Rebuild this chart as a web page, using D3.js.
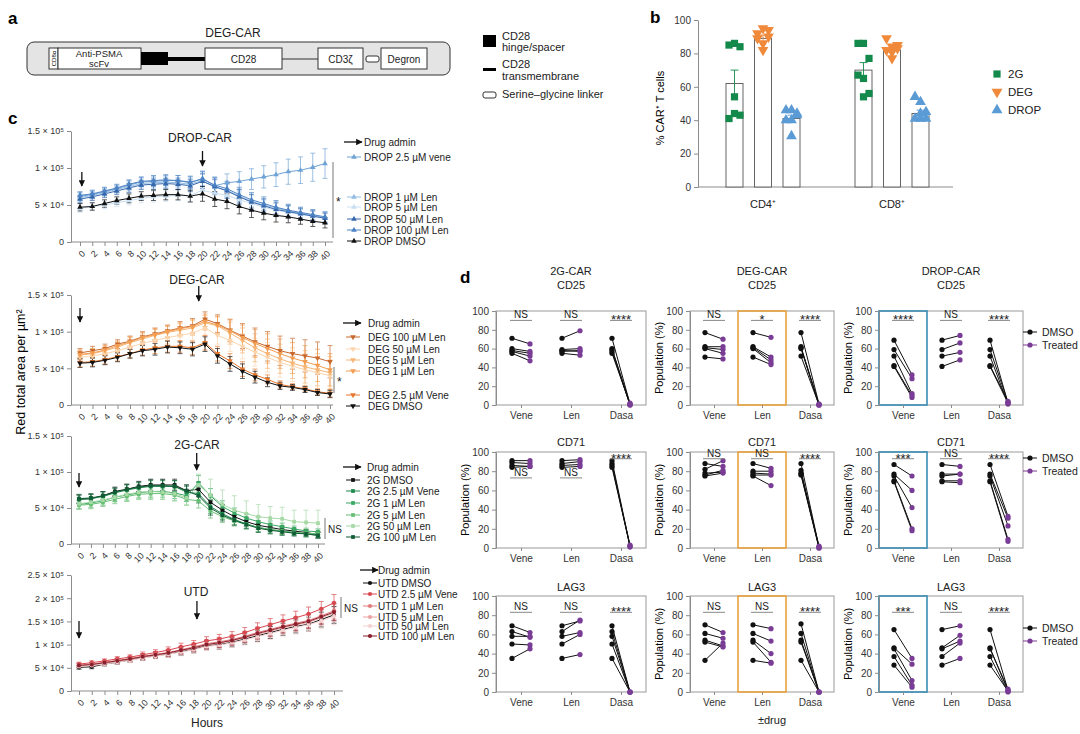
<!DOCTYPE html>
<html lang="en">
<head>
<meta charset="utf-8">
<title>DEG-CAR figure</title>
<script src="https://cdn.jsdelivr.net/npm/d3@7"></script>
<style>
body { margin: 0; background: #fff; }
svg { font-family: "Liberation Sans", Arial, sans-serif; }
.ax { font-family: "Liberation Sans", Arial, sans-serif; }
.ax path, .ax line { stroke: #8c8c8c; }
.ax text { fill: #333; font-size: 9px; }
.axd text { font-size: 10px; }
</style>
</head>
<body>
<svg id="fig" width="1080" height="734"></svg>
<script>
// ---------- panel b data ----------
var bGroups = ["CD4⁺", "CD8⁺"];
var bSeries = ["2G", "DEG", "DROP"];
var bColors = ["#138a4b", "#f0893a", "#5b9bd5"];
var bMeans = [[62, 89, 41], [70, 82, 44]];
var bSem = [[8, 2, 2], [4.5, 1.5, 2]];
var bCD4pts = [[85, 86, 84, 54, 41, 44, 43], [92, 95, 94, 82, 89, 86, 90], [46, 46, 43, 40, 40, 30.5, 44]];
var bCD8pts = [[86, 86, 77, 65, 67, 54, 56], [89, 84, 85, 77, 82, 81, 83], [54, 51, 45, 44, 41, 41, 41]];

// ---------- panel c data (thousands of µm²) ----------
var hours = [0, 2, 4, 6, 8, 10, 12, 14, 16, 18, 20, 22, 24, 26, 28, 30, 32, 34, 36, 38, 40];

var dropVene   = [62, 64, 68, 72, 77, 81, 82, 83, 83, 80, 86, 76, 80, 82, 85, 88, 91, 95, 97, 101, 106];
var drop1Len   = [60, 63, 67, 71, 75, 79, 80, 81, 80, 78, 83, 74, 70, 62, 55, 50, 46, 42, 39, 36, 33];
var drop5Len   = [45, 48, 50, 53, 56, 59, 61, 62, 63, 63, 70, 66, 63, 57, 52, 47, 43, 40, 37, 35, 32];
var drop50Len  = [58, 61, 65, 69, 73, 77, 78, 79, 78, 76, 82, 75, 69, 61, 54, 49, 44, 41, 38, 35, 32];
var drop100Len = [63, 65, 69, 73, 78, 82, 83, 84, 83, 81, 85, 77, 72, 64, 57, 52, 47, 43, 40, 37, 34];
var dropDmso   = [47, 48, 52, 56, 59, 62, 63, 64, 64, 62, 65, 58, 55, 48, 43, 39, 36, 34, 31, 28, 26];
var dropErr     = [5, 5, 5, 5, 6, 6, 7, 7, 7, 8, 10, 10, 10, 10, 10, 9, 9, 8, 7, 7, 7];
var dropVeneErr = [5, 5, 5, 5, 6, 6, 7, 7, 7, 8, 10, 12, 12, 13, 14, 15, 16, 17, 18, 19, 20];

var deg100Len = [71, 74, 77, 83, 87, 93, 97, 101, 105, 108, 117, 111, 102, 94, 86, 80, 74, 70, 67, 64, 59];
var deg50Len  = [65, 67, 70, 74, 79, 84, 88, 92, 95, 98, 105, 95, 88, 80, 72, 65, 58, 53, 48, 44, 40];
var deg5Len   = [68, 70, 74, 79, 85, 90, 95, 99, 102, 105, 112, 108, 98, 88, 78, 70, 63, 57, 52, 48, 44];
var deg1Len   = [69, 71, 75, 81, 86, 92, 96, 100, 104, 107, 114, 109, 101, 92, 84, 77, 70, 64, 59, 54, 48];
var degVene   = [58, 59, 62, 66, 70, 75, 78, 80, 80, 78, 85, 70, 60, 49, 41, 35, 28, 25, 22, 18, 16];
var degDmso   = [57, 58, 61, 65, 70, 74, 76, 79, 78, 76, 83, 67, 56, 46, 38, 31, 26, 24, 21, 17, 15];
var degErr    = [6, 6, 6, 6, 6, 7, 8, 8, 8, 9, 10, 10, 10, 10, 8, 6, 5, 4, 4, 4, 5];
var degLenErr = [6, 6, 6, 6, 7, 7, 8, 8, 9, 10, 10, 12, 15, 17, 19, 20, 20, 21, 22, 22, 22];

var g2Dmso    = [62, 63, 67, 73, 76, 80, 82, 82, 82, 74, 76, 58, 47, 38, 31, 26, 23, 20, 18, 16, 13];
var g2Vene    = [62, 63, 66, 71, 75, 78, 80, 80, 80, 72, 70, 52, 42, 34, 28, 23, 20, 18, 16, 14, 12];
var g2Len1    = [55, 57, 60, 65, 68, 71, 73, 73, 71, 67, 85, 67, 52, 43, 36, 31, 27, 24, 21, 18, 17];
var g2Len5    = [54, 55, 58, 62, 66, 69, 70, 70, 68, 62, 60, 46, 38, 32, 27, 23, 20, 18, 16, 15, 14];
var g2Len50   = [56, 58, 61, 65, 69, 72, 73, 72, 70, 64, 82, 68, 55, 47, 42, 38, 36, 35, 31, 30, 29];
var g2Len100  = [63, 64, 67, 72, 76, 79, 81, 81, 80, 74, 67, 50, 40, 33, 27, 22, 19, 17, 15, 14, 12];
var g2Err     = [6, 6, 6, 6, 7, 7, 8, 8, 8, 8, 10, 10, 8, 7, 6, 6, 5, 5, 4, 4, 4];
var g2LenErr  = [8, 8, 8, 8, 9, 9, 10, 10, 10, 10, 15, 22, 20, 20, 18, 17, 16, 16, 16, 17, 18];

var utdDmso   = [51, 52, 58, 62, 67, 72, 76, 80, 85, 90, 98, 100, 105, 112, 119, 126, 133, 139, 144, 154, 164];
var utdVene   = [58, 61, 65, 69, 73, 78, 83, 88, 95, 101, 108, 112, 118, 126, 135, 143, 151, 158, 166, 177, 190];
var utdLen1   = [56, 58, 62, 66, 70, 75, 79, 83, 89, 95, 102, 106, 111, 118, 126, 133, 140, 146, 152, 162, 173];
var utdLen5   = [54, 56, 60, 64, 68, 73, 77, 81, 87, 92, 99, 103, 108, 115, 122, 129, 136, 142, 148, 158, 168];
var utdLen50  = [53, 55, 58, 62, 66, 71, 75, 79, 84, 89, 96, 99, 104, 110, 117, 124, 131, 137, 143, 151, 161];
var utdLen100 = [55, 57, 61, 65, 69, 74, 78, 82, 88, 93, 100, 104, 109, 116, 124, 131, 138, 144, 150, 160, 170];
var utdErr    = [4, 4, 4, 5, 5, 6, 6, 7, 8, 8, 9, 10, 10, 11, 12, 13, 13, 14, 15, 16, 18];

// ---------- panel d data (Population %) ----------
var drugs = ["Vene", "Len", "Dasa"];
var g2CD25Dmso   = [[71, 60, 58, 57, 55], [71, 59, 58, 57, 55], [71, 60, 59, 57, 55]];
var g2CD25Trt    = [[65, 57, 55, 52, 47], [79, 60, 57, 58, 53], [1, 0, 2, 0, 1]];
var degCD25Dmso  = [[77, 62, 61, 60, 51], [77, 62, 61, 60, 51], [77, 62, 61, 60, 52]];
var degCD25Trt   = [[70, 62, 59, 55, 49], [72, 51, 48, 45, 43], [1, 0, 1, 0, 0]];
var dropCD25Dmso = [[69, 59, 52, 42, 41], [69, 59, 52, 41], [69, 59, 52, 42, 41]];
var dropCD25Trt  = [[32, 28, 12, 10, 8], [74, 66, 56, 48], [2, 3, 1, 4, 2]];

var g2CD71Dmso   = [[91, 89, 86, 84], [91, 88, 86, 84], [91, 88, 86, 84]];
var g2CD71Trt    = [[91, 88, 85, 85], [92, 90, 87, 85], [2, 1, 3, 2]];
var degCD71Dmso  = [[88, 82, 78, 76, 75], [88, 80, 78, 76, 75], [88, 81, 78, 77, 76]];
var degCD71Trt   = [[85, 91, 79, 81, 78], [83, 80, 77, 76, 65], [1, 0, 2, 1, 0]];
var dropCD71Dmso = [[87, 77, 75, 70, 69], [87, 77, 75, 70, 69], [87, 77, 75, 70, 69]];
var dropCD71Trt  = [[75, 60, 42, 20, 18], [85, 77, 77, 70, 68], [33, 31, 23, 9, 7]];

var g2LAG3Dmso   = [[69, 63, 58, 50, 35], [69, 63, 58, 50, 35], [69, 63, 58, 50, 35]];
var g2LAG3Trt    = [[62, 57, 58, 49, 45], [74, 75, 62, 60, 39], [0, 0, 0, 0, 0]];
var degLAG3Dmso  = [[70, 61, 54, 52, 33], [70, 61, 54, 52, 33], [71, 61, 54, 52, 33]];
var degLAG3Trt   = [[62, 56, 48, 47, 51], [66, 53, 40, 31, 30], [0, 0, 0, 0, 0]];
var dropLAG3Dmso = [[65, 46, 45, 37, 28], [65, 46, 45, 37, 28], [65, 46, 45, 37, 28]];
var dropLAG3Trt  = [[35, 29, 12, 7, 5], [69, 59, 53, 51, 35], [2, 1, 3, 0, 1]];

var sigCD25 = [["NS", "NS", "****"], ["NS", "*", "****"], ["****", "NS", "****"]];
var sigCD71 = [["NS", "NS", "****"], ["NS", "NS", "****"], ["***", "NS", "****"]];
var sigLAG3 = [["NS", "NS", "****"], ["NS", "NS", "****"], ["***", "NS", "****"]];

var svg = d3.select("#fig");

var defs = svg.append("defs");
defs.append("marker").attr("id", "arr").attr("viewBox", "0 0 10 10")
	.attr("refX", 9).attr("refY", 5).attr("markerWidth", 5).attr("markerHeight", 5)
	.attr("orient", "auto")
	.append("path").attr("d", "M0,0L10,5L0,10z").attr("fill", "#111");

function txt(g, x, y, s, size, anchor) {
	return g.append("text").attr("x", x).attr("y", y).attr("font-size", size)
		.attr("text-anchor", anchor || "start").attr("fill", "#222").text(s);
}

function sym(g, type, x, y, size, color) {
	var t = type == "sq" ? d3.symbolSquare : type == "ci" ? d3.symbolCircle : d3.symbolTriangle;
	g.append("path").attr("d", d3.symbol().type(t).size(size)())
		.attr("transform", "translate(" + x + "," + y + ")" + (type == "down" ? " rotate(180)" : ""))
		.attr("fill", color);
}

function arrow(g, x1, y1, x2, y2) {
	g.append("line").attr("x1", x1).attr("y1", y1).attr("x2", x2).attr("y2", y2)
		.attr("stroke", "#111").attr("stroke-width", 1.3).attr("marker-end", "url(#arr)");
}

// panel letters
[["a", 8, 24], ["b", 650, 23], ["c", 8, 124], ["d", 460, 283]].forEach(function(p) {
	svg.append("text").attr("x", p[1]).attr("y", p[2]).attr("font-size", 17)
		.attr("font-weight", "bold").text(p[0]);
});

// ================= panel a: construct =================
var ga = svg.append("g");
txt(ga, 233, 37, "DEG-CAR", 12, "middle");
ga.append("rect").attr("x", 27).attr("y", 42).attr("width", 423).attr("height", 33)
	.attr("rx", 7).attr("fill", "#e4e4e4").attr("stroke", "#333");
function box(x1, x2, label) {
	ga.append("rect").attr("x", x1).attr("y", 48).attr("width", x2 - x1).attr("height", 21)
		.attr("fill", "#fff").attr("stroke", "#333");
	if (label) txt(ga, (x1 + x2) / 2, 62.5, label, 10, "middle");
}
box(49, 58);
ga.append("text").attr("transform", "translate(56,58.5) rotate(-90)").attr("font-size", 6)
	.attr("text-anchor", "middle").text("CD8α");
box(58, 141);
txt(ga, 99, 57, "Anti-PSMA", 9.5, "middle");
txt(ga, 99, 67, "scFv", 9.5, "middle");
ga.append("rect").attr("x", 141).attr("y", 52).attr("width", 27).attr("height", 13).attr("fill", "#000");
ga.append("rect").attr("x", 168).attr("y", 57).attr("width", 37).attr("height", 4).attr("fill", "#000");
box(205, 282, "CD28");
ga.append("line").attr("x1", 282).attr("x2", 318).attr("y1", 59).attr("y2", 59).attr("stroke", "#333");
box(318, 363, "CD3ζ");
ga.append("rect").attr("x", 366).attr("y", 56).attr("width", 13).attr("height", 6).attr("rx", 2)
	.attr("fill", "#fff").attr("stroke", "#333");
box(381, 427, "Degron");
// legend
ga.append("rect").attr("x", 483).attr("y", 35).attr("width", 13).attr("height", 12).attr("fill", "#000");
txt(ga, 502, 40, "CD28", 11);
txt(ga, 502, 51, "hinge/spacer", 11);
ga.append("rect").attr("x", 483).attr("y", 68).attr("width", 13).attr("height", 3).attr("fill", "#000");
txt(ga, 502, 68, "CD28", 11);
txt(ga, 502, 80, "transmembrane", 11);
ga.append("rect").attr("x", 483).attr("y", 92).attr("width", 13).attr("height", 6).attr("rx", 2)
	.attr("fill", "#fff").attr("stroke", "#333");
txt(ga, 502, 98, "Serine–glycine linker", 11);

// ================= panel b =================
var gb = svg.append("g");
var by = d3.scaleLinear().domain([0, 100]).range([187, 20]);
var bx = d3.scalePoint().domain(bGroups).range([763, 892]);
var bOff = d3.scalePoint().domain(bSeries).range([-28.5, 28.5]);
var jit = [-5.5, 0, 5.5, 0, -5.5, 0, 5.5];

gb.append("g").attr("class", "ax axd").attr("transform", "translate(698,0)")
	.call(d3.axisLeft(by).tickValues([0, 20, 40, 60, 80, 100]).tickSize(4).tickSizeOuter(0));
gb.append("line").attr("x1", 698).attr("x2", 953).attr("y1", 187).attr("y2", 187).attr("stroke", "#8c8c8c");
gb.append("text").attr("transform", "translate(664,108) rotate(-90)").attr("font-size", 11)
	.attr("text-anchor", "middle").text("% CAR⁺ T cells");

function bShape(si) { return si == 0 ? "sq" : si == 1 ? "down" : "up"; }
bGroups.forEach(function(grp, gi) {
	var pts = gi == 0 ? bCD4pts : bCD8pts;
	txt(gb, bx(grp), 208, grp, 11, "middle");
	bSeries.forEach(function(s, si) {
		var cx = bx(grp) + bOff(s), m = bMeans[gi][si], e = bSem[gi][si];
		gb.append("rect").attr("x", cx - 8.5).attr("y", by(m)).attr("width", 17)
			.attr("height", by(0) - by(m)).attr("fill", "#fff").attr("stroke", "#555").attr("stroke-width", 0.9);
		gb.append("line").attr("x1", cx).attr("x2", cx).attr("y1", by(m - e)).attr("y2", by(m + e))
			.attr("stroke", bColors[si]).attr("stroke-width", 0.9);
		gb.append("line").attr("x1", cx - 4).attr("x2", cx + 4).attr("y1", by(m + e)).attr("y2", by(m + e))
			.attr("stroke", bColors[si]).attr("stroke-width", 0.9);
		pts[si].forEach(function(v, i) {
			sym(gb, bShape(si), cx + jit[i], by(v), si == 0 ? 52 : 50, bColors[si]);
		});
	});
});
bSeries.forEach(function(s, si) {
	var ly = [74, 92, 110][si];
	sym(gb, bShape(si), 997, ly, 52, bColors[si]);
	txt(gb, 1008, ly + 4, s, 11.5);
});

// ================= panel c =================
function timeChart(c) {
	var g = svg.append("g");
	var x = d3.scaleLinear().domain([0, 40]).range([c.x0, c.x40]);
	var y = d3.scaleLinear().domain([0, c.ymax]).range([c.yb, c.yt]);

	g.append("g").attr("class", "ax").attr("transform", "translate(" + c.axL + ",0)")
		.call(d3.axisLeft(y).tickValues(c.ticks)
			.tickFormat(function(d, i) { return c.tickLabels[i]; }).tickSize(4).tickSizeOuter(0));

	var xg = g.append("g").attr("class", "ax").attr("transform", "translate(0," + c.yb + ")")
		.call(d3.axisBottom(x).tickValues(hours).tickSize(4));
	xg.select(".domain").remove();
	xg.selectAll("text").attr("x", 0).attr("y", 0).attr("dy", "0.35em")
		.attr("transform", "translate(3,10) rotate(-45)").style("text-anchor", "end");
	g.append("line").attr("x1", c.axL).attr("x2", c.axR).attr("y1", c.yb).attr("y2", c.yb).attr("stroke", "#8c8c8c");

	var line = d3.line().x(function(d, i) { return x(hours[i]); }).y(function(d) { return y(d); });

	c.series.forEach(function(s) {
		s.vals.forEach(function(v, i) {
			var xx = x(hours[i]), e = s.err[i];
			var eg = g.append("g").attr("stroke", s.color).attr("stroke-width", 0.8).attr("opacity", 0.85);
			eg.append("line").attr("x1", xx).attr("x2", xx).attr("y1", y(v - e)).attr("y2", y(v + e));
			eg.append("line").attr("x1", xx - 2.5).attr("x2", xx + 2.5).attr("y1", y(v - e)).attr("y2", y(v - e));
			eg.append("line").attr("x1", xx - 2.5).attr("x2", xx + 2.5).attr("y1", y(v + e)).attr("y2", y(v + e));
		});
	});
	c.series.forEach(function(s) {
		g.append("path").attr("d", line(s.vals)).attr("fill", "none")
			.attr("stroke", s.color).attr("stroke-width", 1);
	});
	c.series.forEach(function(s) {
		s.vals.forEach(function(v, i) { sym(g, c.sym, x(hours[i]), y(v), 14, s.color); });
	});

	txt(g, c.titleX, c.titleY, c.title, 12, "middle");
	c.arrows.forEach(function(a) { arrow(g, x(a[0]), a[1], x(a[0]), a[2]); });

	// legend
	arrow(g, c.legX - 10, c.drugY, c.legX + 8, c.drugY);
	txt(g, c.legTX, c.drugY + 3.5, "Drug admin", 10);
	c.series.forEach(function(s) {
		g.append("line").attr("x1", c.legX - 7).attr("x2", c.legX + 7).attr("y1", s.ly).attr("y2", s.ly)
			.attr("stroke", s.color);
		sym(g, c.sym, c.legX, s.ly, 14, s.color);
		txt(g, c.legTX, s.ly + 3.5, s.name, 10);
	});
	var b = c.bracket;
	g.append("line").attr("x1", b.x).attr("x2", b.x).attr("y1", b.y1).attr("y2", b.y2).attr("stroke", "#777");
	txt(g, b.x + 3, (b.y1 + b.y2) / 2 + (b.label == "*" ? 6 : 4), b.label, b.label == "*" ? 12 : 10);
}

timeChart({
	title: "DROP-CAR", titleX: 200, titleY: 142, sym: "up",
	yb: 242, yt: 131, ymax: 150, x0: 80, x40: 325, axL: 71, axR: 333,
	ticks: [0, 50, 100, 150], tickLabels: ["0", "5 × 10⁴", "1 × 10⁵", "1.5 × 10⁵"],
	arrows: [[0.3, 172, 186], [20, 151, 166]],
	legX: 354, legTX: 364, drugY: 142,
	series: [
		{name: "DROP 2.5 µM vene", vals: dropVene, err: dropVeneErr, color: "#6fa3d6", ly: 157},
		{name: "DROP 1 µM Len", vals: drop1Len, err: dropErr, color: "#93bde3", ly: 197},
		{name: "DROP 5 µM Len", vals: drop5Len, err: dropErr, color: "#c9dff2", ly: 207},
		{name: "DROP 50 µM Len", vals: drop50Len, err: dropErr, color: "#3567ad", ly: 219},
		{name: "DROP 100 µM Len", vals: drop100Len, err: dropErr, color: "#4d82c4", ly: 230},
		{name: "DROP DMSO", vals: dropDmso, err: dropErr, color: "#111", ly: 241}
	],
	bracket: {x: 333, y1: 162, y2: 238, label: "*"}
});

timeChart({
	title: "DEG-CAR", titleX: 197, titleY: 284, sym: "down",
	yb: 405, yt: 295, ymax: 150, x0: 80, x40: 330, axL: 71, axR: 333,
	ticks: [0, 50, 100, 150], tickLabels: ["0", "5 × 10⁴", "1 × 10⁵", "1.5 × 10⁵"],
	arrows: [[19, 286, 301], [0, 308, 322]],
	legX: 353, legTX: 368, drugY: 323,
	series: [
		{name: "DEG 100 µM Len", vals: deg100Len, err: degLenErr, color: "#c8692e", ly: 337},
		{name: "DEG 50 µM Len", vals: deg50Len, err: degLenErr, color: "#fbd5ad", ly: 349},
		{name: "DEG 5 µM Len", vals: deg5Len, err: degLenErr, color: "#f6b676", ly: 360},
		{name: "DEG 1 µM Len", vals: deg1Len, err: degLenErr, color: "#f29d52", ly: 371},
		{name: "DEG 2.5 µM Vene", vals: degVene, err: degErr, color: "#e9782c", ly: 395},
		{name: "DEG DMSO", vals: degDmso, err: degErr, color: "#111", ly: 406}
	],
	bracket: {x: 334, y1: 367, y2: 393, label: "*"}
});

timeChart({
	title: "2G-CAR", titleX: 197, titleY: 449, sym: "sq",
	yb: 544, yt: 436, ymax: 150, x0: 79, x40: 318, axL: 71, axR: 325,
	ticks: [0, 50, 100, 150], tickLabels: ["0", "5 × 10⁴", "1 × 10⁵", "1.5 × 10⁵"],
	arrows: [[19.7, 453, 470], [0, 473, 487]],
	legX: 353, legTX: 367, drugY: 467,
	series: [
		{name: "2G DMSO", vals: g2Dmso, err: g2Err, color: "#111", ly: 480},
		{name: "2G 2.5 µM Vene", vals: g2Vene, err: g2Err, color: "#1e8a4c", ly: 491},
		{name: "2G 1 µM Len", vals: g2Len1, err: g2Err, color: "#38a862", ly: 503},
		{name: "2G 5 µM Len", vals: g2Len5, err: g2Err, color: "#67bf74", ly: 515},
		{name: "2G 50 µM Len", vals: g2Len50, err: g2LenErr, color: "#a6d9a6", ly: 526},
		{name: "2G 100 µM Len", vals: g2Len100, err: g2Err, color: "#105c36", ly: 537}
	],
	bracket: {x: 325, y1: 518, y2: 539, label: "NS"}
});

timeChart({
	title: "UTD", titleX: 196, titleY: 596, sym: "ci",
	yb: 691, yt: 575, ymax: 250, x0: 79, x40: 334, axL: 71, axR: 343,
	ticks: [0, 50, 100, 150, 200, 250],
	tickLabels: ["0", "5 × 10⁴", "1 × 10⁵", "1.5 × 10⁵", "2 × 10⁵", "2.5 × 10⁵"],
	arrows: [[18.5, 601, 619], [0, 621, 638]],
	legX: 370, legTX: 378, drugY: 570,
	series: [
		{name: "UTD DMSO", vals: utdDmso, err: utdErr, color: "#111", ly: 583},
		{name: "UTD 2.5 µM Vene", vals: utdVene, err: utdErr, color: "#d9474f", ly: 594},
		{name: "UTD 1 µM Len", vals: utdLen1, err: utdErr, color: "#e27b7b", ly: 606},
		{name: "UTD 5 µM Len", vals: utdLen5, err: utdErr, color: "#eaa3a3", ly: 617},
		{name: "UTD 50 µM Len", vals: utdLen50, err: utdErr, color: "#f5d0d0", ly: 626},
		{name: "UTD 100 µM Len", vals: utdLen100, err: utdErr, color: "#8a1f2d", ly: 636}
	],
	bracket: {x: 341, y1: 597, y2: 618, label: "NS"}
});

svg.append("text").attr("transform", "translate(25,372) rotate(-90)").attr("font-size", 12.5)
	.attr("text-anchor", "middle").text("Red total area per µm²");
txt(svg, 207, 727, "Hours", 12, "middle");

// ================= panel d =================
var PURPLE = "#7a3d96";
function pairPlot(p) {
	var g = svg.append("g");
	var y = d3.scaleLinear().domain([0, 100]).range([p.yb, p.yt]);
	var xc = d3.scalePoint().domain(drugs).range([p.x + p.w / 6, p.x + 5 * p.w / 6]);

	g.append("rect").attr("x", p.x).attr("y", p.yt).attr("width", p.w).attr("height", p.yb - p.yt)
		.attr("fill", "none").attr("stroke", "#999");
	if (p.hi >= 0) {
		g.append("rect").attr("x", p.x + p.hi * p.w / 3).attr("y", p.yt).attr("width", p.w / 3)
			.attr("height", p.yb - p.yt).attr("fill", "none").attr("stroke", p.hiColor).attr("stroke-width", 1.6);
	}
	g.append("g").attr("class", "ax axd").attr("transform", "translate(" + p.x + ",0)")
		.call(d3.axisLeft(y).tickValues([0, 20, 40, 60, 80, 100]).tickSize(4).tickSizeOuter(0));
	var xg = g.append("g").attr("class", "ax axd").attr("transform", "translate(0," + p.yb + ")")
		.call(d3.axisBottom(xc).tickSize(3).tickSizeOuter(0));
	xg.select(".domain").remove();
	xg.selectAll("text").attr("y", 7);

	p.title.forEach(function(t, i) { txt(g, p.x + p.w / 2, p.titleY + i * 14, t, 11, "middle"); });
	if (p.ylab) {
		g.append("text").attr("transform", "translate(" + (p.x - 27) + "," + (p.yt + p.yb) / 2 + ") rotate(-90)")
			.attr("font-size", 11).attr("text-anchor", "middle").text("Population (%)");
	}

	drugs.forEach(function(dr, i) {
		var cx = xc(dr);
		p.dmso[i].forEach(function(v, j) {
			g.append("line").attr("x1", cx - 9).attr("x2", cx + 9).attr("y1", y(v)).attr("y2", y(p.trt[i][j]))
				.attr("stroke", "#111").attr("stroke-width", 1);
		});
		p.dmso[i].forEach(function(v) {
			g.append("circle").attr("cx", cx - 9).attr("cy", y(v)).attr("r", 2.6).attr("fill", "#111");
		});
		p.trt[i].forEach(function(v) {
			g.append("circle").attr("cx", cx + 9).attr("cy", y(v)).attr("r", 2.6).attr("fill", PURPLE);
		});
		var sy = y(p.sigLevel[i]);
		g.append("line").attr("x1", cx - 11).attr("x2", cx + 11).attr("y1", sy).attr("y2", sy)
			.attr("stroke", "#888");
		var star = p.sig[i] != "NS";
		txt(g, cx, star ? sy + 4 : sy - 2, p.sig[i], star ? 13 : 10, "middle");
	});
}

var colX = [496, 690, 879], colW = [150, 144, 144];
var rows = [
	{yt: 311, yb: 405, titleY: 289, sets: [[g2CD25Dmso, g2CD25Trt], [degCD25Dmso, degCD25Trt], [dropCD25Dmso, dropCD25Trt]],
		sig: sigCD25, titles: [["2G-CAR", "CD25"], ["DEG-CAR", "CD25"], ["DROP-CAR", "CD25"]],
		lev: [[90, 90, 90], [90, 90, 90], [90, 90, 90]], ylab: [false, true, true], leg: 332},
	{yt: 452, yb: 548, titleY: 446, sets: [[g2CD71Dmso, g2CD71Trt], [degCD71Dmso, degCD71Trt], [dropCD71Dmso, dropCD71Trt]],
		sig: sigCD71, titles: [["CD71"], ["CD71"], ["CD71"]],
		lev: [[73, 73, 93], [93, 93, 93], [93, 93, 93]], ylab: [true, true, true], leg: 458},
	{yt: 596, yb: 692, titleY: 591, sets: [[g2LAG3Dmso, g2LAG3Trt], [degLAG3Dmso, degLAG3Trt], [dropLAG3Dmso, dropLAG3Trt]],
		sig: sigLAG3, titles: [["LAG3"], ["LAG3"], ["LAG3"]],
		lev: [[83, 83, 83], [83, 83, 83], [83, 83, 83]], ylab: [false, true, true], leg: 628}
];
rows.forEach(function(r) {
	colX.forEach(function(x, ci) {
		pairPlot({
			x: x, w: colW[ci], yt: r.yt, yb: r.yb, titleY: r.titleY - (r.titles[ci].length - 1) * 14,
			title: r.titles[ci], dmso: r.sets[ci][0], trt: r.sets[ci][1], sig: r.sig[ci], sigLevel: r.lev[ci],
			ylab: r.ylab[ci], hi: ci == 1 ? 1 : ci == 2 ? 0 : -1, hiColor: ci == 1 ? "#e8a23c" : "#3a8db5"
		});
	});
	[["DMSO", "#111"], ["Treated", PURPLE]].forEach(function(l, i) {
		var ly = r.leg + i * 13;
		svg.append("line").attr("x1", 1023).attr("x2", 1037).attr("y1", ly).attr("y2", ly).attr("stroke", l[1]);
		svg.append("circle").attr("cx", 1030).attr("cy", ly).attr("r", 2.6).attr("fill", l[1]);
		txt(svg, 1042, ly + 4, l[0], 10.5);
	});
});
txt(svg, 772, 724, "±drug", 11, "middle");
</script>
</body>
</html>
